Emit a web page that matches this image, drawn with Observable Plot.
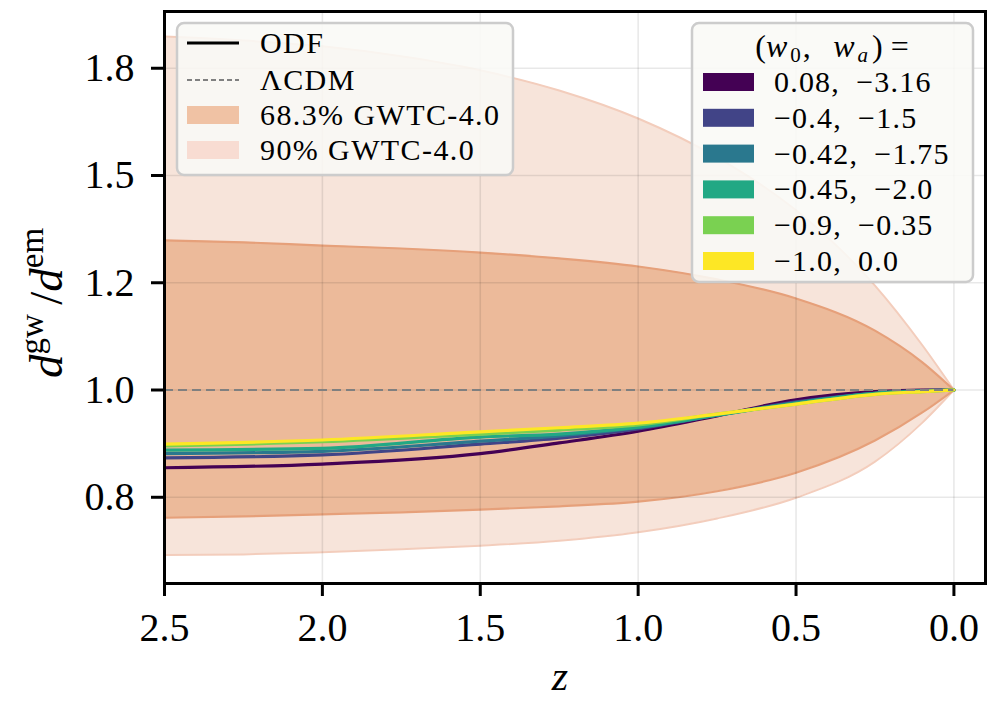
<!DOCTYPE html>
<html><head><meta charset="utf-8">
<script src="https://cdn.jsdelivr.net/npm/d3@7"></script>
<script src="https://cdn.jsdelivr.net/npm/@observablehq/plot@0.6"></script>
<style>
html,body{margin:0;padding:0;background:#fff;}
#chart svg{display:block;}
#chart [aria-label="frame"]{stroke-width:3px;}
#chart [aria-label="x-axis tick"] path, #chart [aria-label="y-axis tick"] path{stroke-width:3px;}
</style></head><body><div id="chart"></div>
<script>
// ---- data ----
const bandZ = [2.5, 2.25, 2.0, 1.75, 1.5, 1.25, 1.0, 0.75, 0.5, 0.25, 0.1, 0.0];
const hi90  = [1.933, 1.919, 1.898, 1.863, 1.815, 1.748, 1.659, 1.543, 1.398, 1.215, 1.087, 1.0];
const hi68  = [1.322, 1.317, 1.309, 1.302, 1.292, 1.278, 1.259, 1.229, 1.186, 1.117, 1.053, 1.0];
const lo68  = [0.788, 0.790, 0.793, 0.796, 0.800, 0.805, 0.812, 0.828, 0.857, 0.910, 0.959, 1.0];
const lo90  = [0.735, 0.736, 0.739, 0.743, 0.748, 0.755, 0.767, 0.787, 0.818, 0.875, 0.941, 1.0];

const odfZ = [2.5, 2.0, 1.5, 1.25, 1.0, 0.75, 0.5, 0.25, 0.1, 0.0];
const seriesLabels = ["0.08, \u22123.16", "\u22120.4, \u22121.5", "\u22120.42, \u22121.75", "\u22120.45, \u22122.0", "\u22120.9, \u22120.35", "\u22121.0, 0.0"];
const seriesColors = ["#440154", "#414487", "#2a788e", "#22a884", "#7ad151", "#fde725"];
const odfPurple = [0.865, 0.871, 0.888, 0.906, 0.926, 0.953, 0.982, 0.997, 1.000, 1.0];
const odfBlue   = [0.881, 0.886, 0.904, 0.914, 0.930, 0.954, 0.978, 0.994, 0.999, 1.0];
const odfTeal   = [0.888, 0.892, 0.909, 0.918, 0.932, 0.954, 0.977, 0.994, 0.999, 1.0];
const odfGreen  = [0.894, 0.897, 0.916, 0.921, 0.933, 0.954, 0.976, 0.994, 0.998, 1.0];
const odfLime   = [0.901, 0.908, 0.921, 0.928, 0.937, 0.956, 0.974, 0.992, 0.997, 1.0];
const odfYellow = [0.904, 0.911, 0.925, 0.932, 0.940, 0.956, 0.974, 0.992, 0.997, 1.0];
const odfValues = [odfPurple, odfBlue, odfTeal, odfGreen, odfLime, odfYellow];

const lcdmValue = 1.0;
const xTicks = [2.5, 2.0, 1.5, 1.0, 0.5, 0.0];
const yTickValues = [0.8187, 1.0, 1.2214, 1.4918, 1.8221];
const yTickLabels = ["0.8", "1.0", "1.2", "1.5", "1.8"];
const leftLegendLabels = ["ODF", "\u039BCDM", "68.3% GWTC-4.0", "90% GWTC-4.0"];

// ---- tables ----
const bandRows = bandZ.map((z, i) => ({z, hi90: hi90[i], hi68: hi68[i], lo68: lo68[i], lo90: lo90[i]}));
const odfRows = [];
seriesLabels.forEach((s, k) => odfZ.forEach((z, i) => odfRows.push({z, v: odfValues[k][i], series: s})));

const FONT = "'Liberation Serif', 'DejaVu Serif', serif";
const c90 = "#f7e4da", c90edge = "#f3cdbc", c68 = "#ecba9a", c68edge = "#e6a07a";

const chart = Plot.plot({
  width: 1007, height: 701,
  marginLeft: 164, marginRight: 22, marginTop: 11, marginBottom: 118,
  style: {fontFamily: FONT, fontSize: "40px", color: "#000", background: "#fff"},
  x: {domain: [2.5, -0.1]},
  y: {type: "log", domain: [0.6971, 2.0255]},
  color: {domain: seriesLabels, range: seriesColors},
  marks: [
    Plot.areaY(bandRows, {x: "z", y1: "lo90", y2: "hi90", fill: c90, curve: "monotone-x"}),
    Plot.lineY(bandRows, {x: "z", y: "hi90", stroke: c90edge, strokeWidth: 2, curve: "monotone-x"}),
    Plot.lineY(bandRows, {x: "z", y: "lo90", stroke: c90edge, strokeWidth: 2, curve: "monotone-x"}),
    Plot.areaY(bandRows, {x: "z", y1: "lo68", y2: "hi68", fill: c68, curve: "monotone-x"}),
    Plot.lineY(bandRows, {x: "z", y: "hi68", stroke: c68edge, strokeWidth: 2.2, curve: "monotone-x"}),
    Plot.lineY(bandRows, {x: "z", y: "lo68", stroke: c68edge, strokeWidth: 2.2, curve: "monotone-x"}),
    Plot.gridX({ticks: xTicks, stroke: "#000", strokeOpacity: 0.09, strokeWidth: 1.6}),
    Plot.gridY({ticks: yTickValues, stroke: "#000", strokeOpacity: 0.09, strokeWidth: 1.6}),
    Plot.lineY(odfRows, {x: "z", y: "v", z: "series", stroke: "series", strokeWidth: 3.2, curve: "monotone-x"}),
    Plot.ruleY([lcdmValue], {x1: 2.5, x2: 0, stroke: "#808080", strokeWidth: 2, strokeDasharray: "9,5"}),
    Plot.frame({stroke: "#000", strokeWidth: 3}),
    Plot.axisX({ticks: xTicks, tickSize: 13, tickPadding: 16, strokeWidth: 3, tickFormat: d => d.toFixed(1), label: null}),
    Plot.axisY({ticks: yTickValues, tickSize: 13, tickPadding: 17, strokeWidth: 3, tickFormat: d => yTickLabels[yTickValues.indexOf(d)], label: null})
  ]
});
document.getElementById("chart").appendChild(chart);

// ---- labels and legends ----
const svg = d3.select(chart);
// y label
const yl = svg.append("text").attr("transform", "translate(62,303) rotate(-90)")
  .attr("text-anchor", "middle").attr("font-family", FONT).attr("font-size", 47).attr("fill", "#000");
yl.append("tspan").attr("font-style", "italic").text("d");
yl.append("tspan").attr("font-size", 33).attr("dy", -19).text("gw");
yl.append("tspan").attr("dy", 19).text("\u2009/");
yl.append("tspan").attr("font-style", "italic").text("d");
yl.append("tspan").attr("font-size", 33).attr("dy", -19).text("em");
// x label
svg.append("text").attr("x", 560).attr("y", 690).attr("text-anchor", "middle")
  .attr("font-family", FONT).attr("font-size", 42).attr("font-style", "italic").text("z");

// left legend
const L = svg.append("g").attr("font-family", FONT).attr("font-size", 30).attr("text-anchor", "start");
L.append("rect").attr("x", 177).attr("y", 23).attr("width", 336).attr("height", 152).attr("rx", 7)
  .attr("fill", "#f9f9f6").attr("fill-opacity", 0.88).attr("stroke", "#cccccc").attr("stroke-width", 2.5);
const lrows = [43, 80, 115, 150];
L.append("line").attr("x1", 187).attr("x2", 239).attr("y1", lrows[0]).attr("y2", lrows[0]).attr("stroke", "#000").attr("stroke-width", 3);
L.append("line").attr("x1", 187).attr("x2", 239).attr("y1", lrows[1]).attr("y2", lrows[1]).attr("stroke", "#808080").attr("stroke-width", 1.8).attr("stroke-dasharray", "5,3");
L.append("rect").attr("x", 187).attr("y", lrows[2] - 9).attr("width", 52).attr("height", 18).attr("fill", "#f0c2a4");
L.append("rect").attr("x", 187).attr("y", lrows[3] - 9).attr("width", 52).attr("height", 18).attr("fill", "#f8dcd2");
leftLegendLabels.forEach((t, i) => L.append("text").attr("x", 260).attr("y", lrows[i] + 10).attr("letter-spacing", 1.4).text(t));

// right legend
const R = svg.append("g").attr("font-family", FONT).attr("font-size", 30).attr("text-anchor", "start");
R.append("rect").attr("x", 692).attr("y", 23).attr("width", 281).attr("height", 259).attr("rx", 7)
  .attr("fill", "#f9f9f6").attr("fill-opacity", 0.88).attr("stroke", "#cccccc").attr("stroke-width", 2.5);
const title = R.append("text").attr("x", 832).attr("y", 57).attr("text-anchor", "middle").attr("font-size", 32);
title.append("tspan").text("(");
title.append("tspan").attr("font-style", "italic").text("w");
title.append("tspan").attr("font-size", 21).attr("dx", 3).attr("dy", 5).text("0");
title.append("tspan").attr("dx", 2).attr("dy", -5).text(",\u2002\u2009");
title.append("tspan").attr("font-style", "italic").text("w");
title.append("tspan").attr("font-size", 21).attr("font-style", "italic").attr("dx", 3).attr("dy", 5).text("a");
title.append("tspan").attr("dx", 4).attr("dy", -5).text(") =");
seriesLabels.forEach((s, i) => {
  const cy = 82 + i * 35.8;
  R.append("rect").attr("x", 703).attr("y", cy - 9).attr("width", 51).attr("height", 18).attr("fill", seriesColors[i]);
  R.append("text").attr("x", 774).attr("y", cy + 10).attr("letter-spacing", 1.2).text(s.replace(", ", ",\u2002"));
});
</script>
</body></html>
